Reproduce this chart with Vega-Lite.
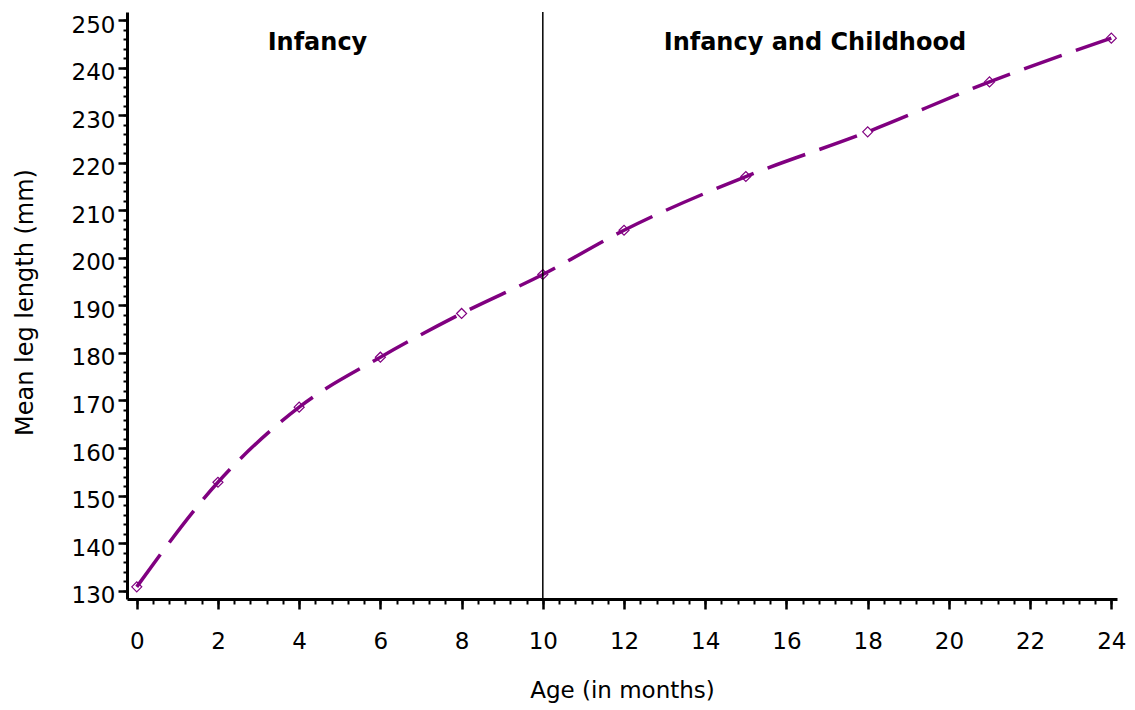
{
  "$schema": "https://vega.github.io/schema/vega-lite/v6.json",
  "width": 990,
  "height": 587,
  "autosize": {"type": "none"},
  "padding": {"left": 127, "top": 12, "right": 18, "bottom": 111},
  "background": "white",
  "config": {
    "view": {"stroke": null},
    "axis": {
      "grid": false,
      "domainColor": "black",
      "tickColor": "black",
      "labelColor": "black",
      "titleColor": "black",
      "labelFont": "DejaVu Sans",
      "titleFont": "DejaVu Sans",
      "titleFontWeight": "normal"
    }
  },
  "datasets": {
    "growth": [
      {"age": 0, "len": 130.8},
      {"age": 2, "len": 152.8},
      {"age": 4, "len": 168.6},
      {"age": 6, "len": 179.1},
      {"age": 8, "len": 188.3},
      {"age": 10, "len": 196.5},
      {"age": 12, "len": 205.8},
      {"age": 15, "len": 217.1},
      {"age": 18, "len": 226.5},
      {"age": 21, "len": 237.0},
      {"age": 24, "len": 246.2}
    ],
    "divider": [{"age": 10}],
    "labels": [
      {"label": "Infancy", "age": 4.45, "len": 243.7},
      {"label": "Infancy and Childhood", "age": 16.7, "len": 243.7}
    ]
  },
  "layer": [
    {
      "data": {"name": "growth"},
      "mark": {"type": "line", "interpolate": "monotone", "color": "#800080", "strokeWidth": 3.5, "strokeDash": [40, 15]},
      "encoding": {
        "x": {
          "field": "age", "type": "quantitative",
          "scale": {"domain": [-0.24, 24.14], "nice": false, "zero": false},
          "axis": {
            "orient": "bottom",
            "values": [0, 2, 4, 6, 8, 10, 12, 14, 16, 18, 20, 22, 24],
            "title": "Age (in months)",
            "titleFontSize": 23,
            "titleBaseline": "alphabetic",
            "titleX": 495,
            "titleY": 98,
            "labelFontSize": 23,
            "labelPadding": 21,
            "tickSize": 10,
            "tickWidth": 2.5,
            "domainWidth": 3
          }
        },
        "y": {
          "field": "len", "type": "quantitative",
          "scale": {"domain": [128.25, 251.7], "nice": false, "zero": false},
          "axis": {
            "orient": "left",
            "values": [130, 140, 150, 160, 170, 180, 190, 200, 210, 220, 230, 240, 250],
            "title": "Mean leg length (mm)",
            "titleFontSize": 24,
            "titleBaseline": "alphabetic",
            "titleAngle": -90,
            "titleX": -95,
            "titleY": 290,
            "labelFontSize": 23,
            "labelPadding": 3,
            "labelOffset": 5,
            "tickSize": 9,
            "tickWidth": 2.5,
            "domainWidth": 3
          }
        }
      }
    },
    {
      "data": {"name": "growth"},
      "mark": {"type": "point", "shape": "diamond", "filled": false, "color": "#800080", "size": 100, "strokeWidth": 1.2, "opacity": 1},
      "encoding": {
        "x": {"field": "age", "type": "quantitative", "scale": {"domain": [-0.24, 24.14], "nice": false, "zero": false}, "axis": null},
        "y": {
          "field": "len", "type": "quantitative",
          "scale": {"domain": [128.25, 251.7], "nice": false, "zero": false},
          "axis": {
            "orient": "left",
            "values": [130, 132, 134, 136, 138, 140, 142, 144, 146, 148, 150, 152, 154, 156, 158, 160, 162, 164, 166, 168, 170, 172, 174, 176, 178, 180, 182, 184, 186, 188, 190, 192, 194, 196, 198, 200, 202, 204, 206, 208, 210, 212, 214, 216, 218, 220, 222, 224, 226, 228, 230, 232, 234, 236, 238, 240, 242, 244, 246, 248, 250],
            "title": null,
            "labels": false,
            "domain": false,
            "tickSize": 4,
            "tickWidth": 2
          }
        }
      }
    },
    {
      "data": {"name": "divider"},
      "mark": {"type": "rule", "color": "black", "strokeWidth": 1.5},
      "encoding": {
        "x": {
          "field": "age", "type": "quantitative",
          "scale": {"domain": [-0.24, 24.14], "nice": false, "zero": false},
          "axis": {
            "orient": "bottom",
            "values": [0, 0.4, 0.8, 1.2, 1.6, 2, 2.4, 2.8, 3.2, 3.6, 4, 4.4, 4.8, 5.2, 5.6, 6, 6.4, 6.8, 7.2, 7.6, 8, 8.4, 8.8, 9.2, 9.6, 10, 10.4, 10.8, 11.2, 11.6, 12, 12.4, 12.8, 13.2, 13.6, 14, 14.4, 14.8, 15.2, 15.6, 16, 16.4, 16.8, 17.2, 17.6, 18, 18.4, 18.8, 19.2, 19.6, 20, 20.4, 20.8, 21.2, 21.6, 22, 22.4, 22.8, 23.2, 23.6, 24],
            "title": null,
            "labels": false,
            "domain": false,
            "tickSize": 5,
            "tickWidth": 2
          }
        }
      }
    },
    {
      "data": {"name": "labels"},
      "mark": {"type": "text", "font": "DejaVu Sans", "fontWeight": "bold", "fontSize": 24, "align": "center", "baseline": "alphabetic", "color": "black"},
      "encoding": {
        "x": {"field": "age", "type": "quantitative", "scale": {"domain": [-0.24, 24.14], "nice": false, "zero": false}, "axis": null},
        "y": {"field": "len", "type": "quantitative", "scale": {"domain": [128.25, 251.7], "nice": false, "zero": false}, "axis": null},
        "text": {"field": "label"}
      }
    }
  ],
  "resolve": {"axis": {"x": "independent", "y": "independent"}}
}
